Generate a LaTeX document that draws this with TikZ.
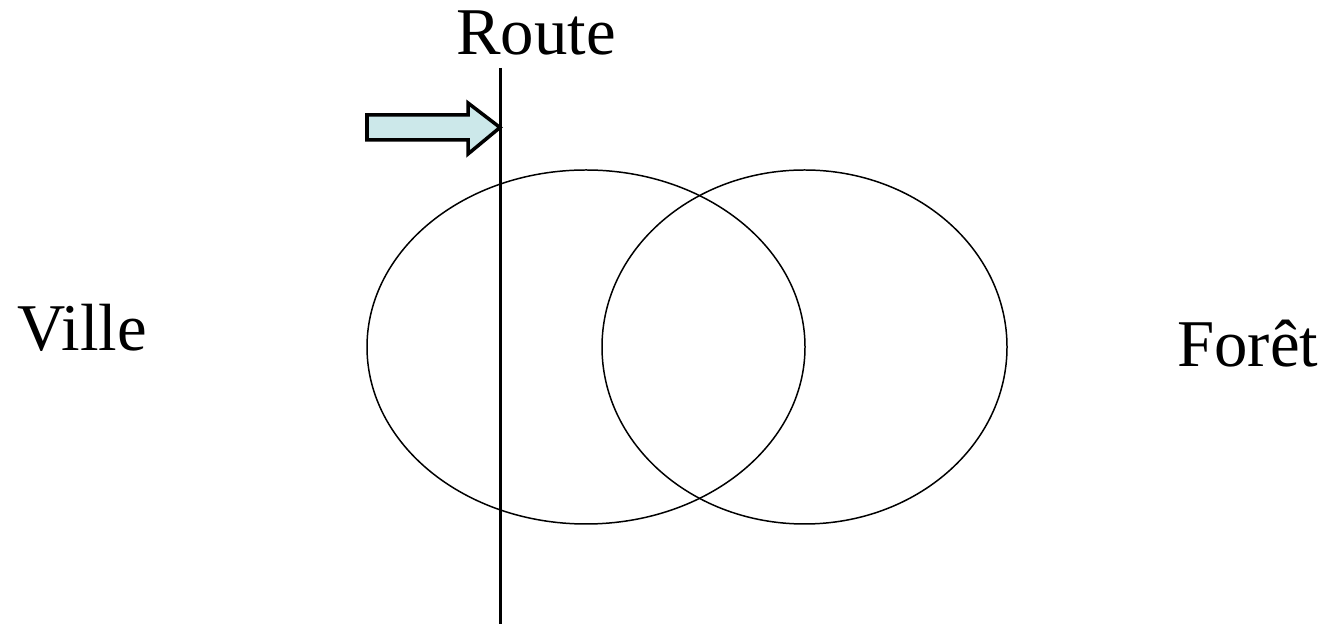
\documentclass[tikz,border=0pt]{standalone}
\usepackage{fontspec}
\setmainfont{Liberation Serif}
\usepackage{tikz}
\usetikzlibrary{positioning, calc}

\definecolor{arrowfill}{RGB}{204,232,234}

\begin{document}
\begin{tikzpicture}[
		lbl/.style={font=\fontsize{38}{40}\selectfont, inner sep=0pt, anchor=base west},
		zone/.style={line width=0.85pt},
	]
	\useasboundingbox (0,0) rectangle (26.48,12.48);
	% the two areas
	\draw[zone] (11.72,5.54) ellipse [x radius=4.38cm, y radius=3.54cm];
	\draw[zone] (16.09,5.54) ellipse [x radius=4.05cm, y radius=3.54cm];
	% the road
	\coordinate (roadtop) at (10.0,11.12);
	\coordinate (roadbot) at (10.0,0);
	\draw[line width=1.7pt] (roadtop) -- (roadbot);
	\node[lbl] (route) at (9.12,11.38) {Route};
	\node[lbl] (ville) at (0.34,5.46) {Ville};
	\node[lbl] (foret) at (23.54,5.14) {Forêt};
	% block arrow
	\draw[line width=2pt, fill=arrowfill, line join=miter]
		(7.34,10.18) -- (9.36,10.18) -- (9.36,10.42) -- (10.0,9.93)
		-- (9.36,9.40) -- (9.36,9.68) -- (7.34,9.68) -- cycle;
\end{tikzpicture}
\end{document}
